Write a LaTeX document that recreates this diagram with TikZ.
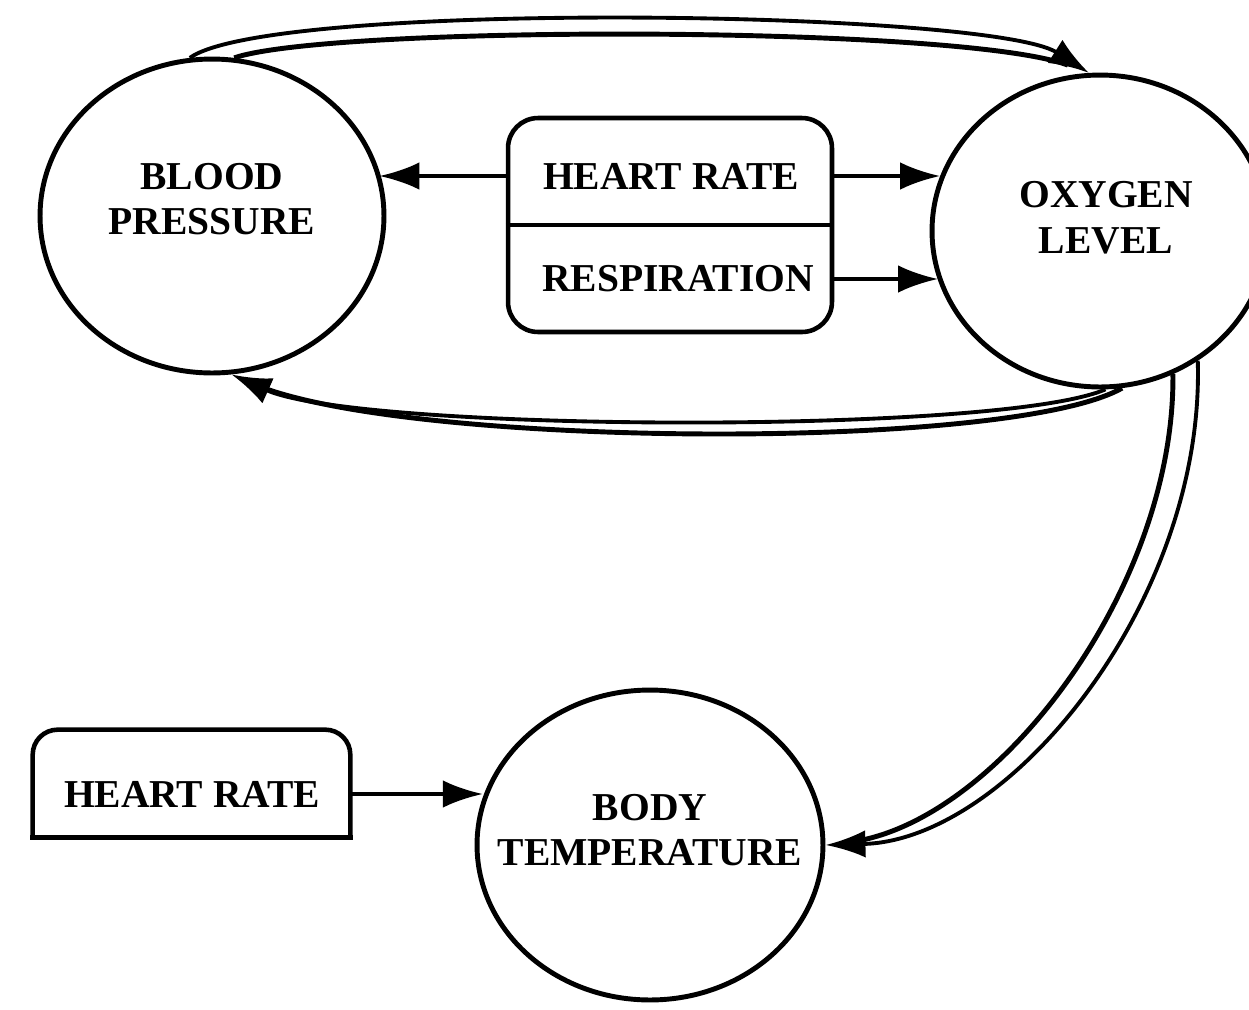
\documentclass[tikz,border=0pt]{standalone}
\usepackage{fontspec}
\setmainfont{Liberation Serif}
\usepackage{tikz}
\usetikzlibrary{arrows.meta,shapes.geometric,positioning}
\definecolor{inkBlack}{RGB}{0,0,0}
\tikzset{
  statenode/.style={
    ellipse, draw=inkBlack, line width=2.8pt, inner sep=0pt
  },
  signalbox/.style={
    rectangle, draw=inkBlack, line width=2.6pt, rounded corners=0.6cm
  },
  feedArrow/.style={-{Latex[length=0.8cm,width=0.55cm]}, line width=2.2pt, draw=inkBlack}
}

\begin{document}
\begin{tikzpicture}[x=0.02cm, y=-0.02cm,
        lbl/.style={font=\fontsize{22.5}{26}\selectfont\bfseries, align=center},
        rail/.style={line width=2.8pt, draw=inkBlack},
        railEnd/.style={rail, shorten >=0.45cm}]
        \path[use as bounding box, clip] (0,0) rectangle (1249,1009);
        % measured quantities
        \node[statenode, minimum width=6.88cm, minimum height=6.28cm,
              label={[lbl, yshift=0.34cm]center:BLOOD\\PRESSURE}] (bp) at (212,216) {};
        \node[statenode, minimum width=6.72cm, minimum height=6.24cm,
              label={[lbl, xshift=0.12cm, yshift=0.27cm]center:OXYGEN\\LEVEL}] (ol) at (1100,231) {};
        \node[statenode, minimum width=6.92cm, minimum height=6.2cm,
              label={[lbl, yshift=0.3cm]center:BODY\\TEMPERATURE}] (bt) at (650,845) {};
        % vital signs box
        \node[signalbox, minimum width=6.48cm, minimum height=4.28cm] (vitals) at (670,225) {};
        \draw[line width=2.6pt] (vitals.west) -- (vitals.east);
        \node[lbl] (hr) at (671,176) {HEART RATE};
        \node[lbl] (resp) at (678,279) {RESPIRATION};
        \draw[feedArrow] (vitals.west |- hr) -- (bp.15 |- hr);
        \draw[feedArrow] (vitals.east |- hr) -- (ol.161 |- hr);
        \draw[feedArrow] (vitals.east |- resp) -- (ol.197 |- resp);
        % heart rate into temperature (top corners rounded only)
        \node[minimum width=6.34cm, minimum height=2.14cm] (restbox) at (191.5,783.5) {};
        \draw[line width=2.6pt, rounded corners=0.5cm] (restbox.south west) -- (restbox.north west)
              -- (restbox.north east) -- (restbox.south east);
        \draw[line width=2.6pt, line cap=rect] (restbox.south west) -- (restbox.south east);
        \node[lbl] (hr2) at (192,794) {HEART RATE};
        \draw[feedArrow] (hr2 -| restbox.east) -- (hr2 -| bt.164);
        % double links between the circles
        \draw[rail, feedArrow] (bp.98) .. controls (270,0) and (990,10) .. (ol.94);
        \draw[railEnd] (bp.82) .. controls (330,25) and (960,25) .. (ol.94);
        \draw[rail, feedArrow] (ol.272) .. controls (1000,435) and (360,432) .. (bp.277);
        \draw[railEnd] (ol.278) .. controls (1010,452) and (400,448) .. (bp.277);
        \draw[rail, feedArrow] (ol.307) .. controls (1205,600) and (1010,840) .. (bt.east);
        \draw[railEnd] (ol.297) .. controls (1175,590) and (995,825) .. (bt.east);
      \end{tikzpicture}
\end{document}
